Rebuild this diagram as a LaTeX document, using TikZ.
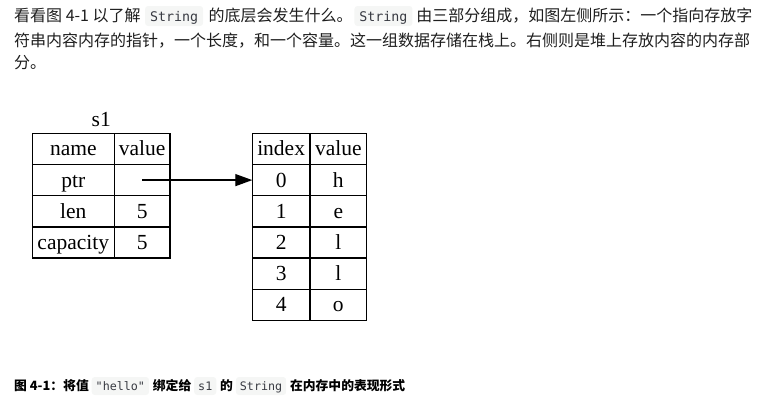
\documentclass[tikz,border=0pt]{standalone}
\usepackage{fontspec}
\setmainfont{Liberation Serif}
\newfontfamily\cjk{Noto Sans CJK SC}
\newfontfamily\codefont{DejaVu Sans Mono}
\usetikzlibrary{arrows.meta, positioning}
\definecolor{codebg}{HTML}{F5F6F5}
\definecolor{codefg}{HTML}{383A42}
\definecolor{bodytext}{HTML}{1E1E1E}

\begin{document}
\begin{tikzpicture}[x=1pt, y=-1pt,
  txt/.style={inner sep=0pt, anchor=base west, text=bodytext, font=\cjk\fontsize{16}{20}\selectfont},
  code/.style={fill=codebg, rounded corners=3pt, inner xsep=5pt, inner ysep=0pt, text height=15pt, text depth=5pt, anchor=base west, text=codefg, font=\codefont\fontsize{13.3}{16}\selectfont},
  capText/.style={txt, text=black, font=\cjk\bfseries\fontsize{12.8}{16}\selectfont},
  capCode/.style={code, inner xsep=4pt, text height=13pt, text depth=5pt, font=\codefont\fontsize{11.7}{14}\selectfont},
  cell/.style={draw, line width=1.3pt, inner sep=0pt, outer sep=0pt, minimum height=31.2pt, text height=17pt, text depth=3pt, font=\fontsize{21.5}{24}\selectfont},
  nameCol/.style={cell, minimum width=82pt},
  valCol/.style={cell, minimum width=55.7pt},
  idxCol/.style={cell, minimum width=57.7pt},
  chrCol/.style={cell, minimum width=56.7pt},
  pointer/.style={-{Triangle[length=17pt, width=12pt]}, line width=1.3pt},
]
\useasboundingbox (0,0) rectangle (760,405);

% paragraph
\node[txt] (p1a) at (14,21) {看看图 4-1 以了解};
\node[code] (p1b) at ([xshift=4pt]p1a.base east) {String};
\node[txt] (p1c) at ([xshift=5pt]p1b.base east) {的底层会发生什么。};
\node[code] (p1d) at ([xshift=1.5pt]p1c.base east) {String};
\node[txt] (p1e) at ([xshift=3.5pt]p1d.base east) {由三部分组成，如图左侧所示：一个指向存放字};
\node[txt] (p2) at (14,46) {符串内容内存的指针，一个长度，和一个容量。这一组数据存储在栈上。右侧则是堆上存放内容的内存部};
\node[txt] (p3) at (14,68) {分。};

% Stack: s1
\node[nameCol, anchor=north west] (s1-name) at (32.3,133.3) {name};
\node[nameCol, below=0pt of s1-name] (s1-ptr) {ptr};
\node[nameCol, below=0pt of s1-ptr] (s1-len) {len};
\node[nameCol, below=0pt of s1-len] (s1-cap) {capacity};
\node[valCol, right=0pt of s1-name] (s1-name-v) {value};
\node[valCol, right=0pt of s1-ptr] (s1-ptr-v) {};
\node[valCol, right=0pt of s1-len] (s1-len-v) {5};
\node[valCol, right=0pt of s1-cap] (s1-cap-v) {5};
\node[inner sep=0pt, anchor=base, font=\fontsize{21.5}{24}\selectfont] (s1-label) at (101.2,126) {s1};

% Heap
\node[idxCol, anchor=north west] (h-index) at (252.3,133.3) {index};
\node[idxCol, below=0pt of h-index] (h0) {0};
\node[idxCol, below=0pt of h0] (h1) {1};
\node[idxCol, below=0pt of h1] (h2) {2};
\node[idxCol, below=0pt of h2] (h3) {3};
\node[idxCol, below=0pt of h3] (h4) {4};
\node[chrCol, right=0pt of h-index] (h-value) {value};
\node[chrCol, right=0pt of h0] (h0-v) {h};
\node[chrCol, right=0pt of h1] (h1-v) {e};
\node[chrCol, right=0pt of h2] (h2-v) {l};
\node[chrCol, right=0pt of h3] (h3-v) {l};
\node[chrCol, right=0pt of h4] (h4-v) {o};

\draw[pointer] (s1-ptr-v.center) -- (h0.west);

% caption
\node[capText] (c1) at (14,390) {图 4-1：将值};
\node[capCode] (c2) at ([xshift=2.5pt]c1.base east) {"hello"};
\node[capText] (c3) at ([xshift=3.5pt]c2.base east) {绑定给};
\node[capCode] (c4) at ([xshift=2.5pt]c3.base east) {s1};
\node[capText] (c5) at ([xshift=3.5pt]c4.base east) {的};
\node[capCode] (c6) at ([xshift=2.5pt]c5.base east) {String};
\node[capText] (c7) at ([xshift=3.5pt]c6.base east) {在内存中的表现形式};
\end{tikzpicture}
\end{document}
